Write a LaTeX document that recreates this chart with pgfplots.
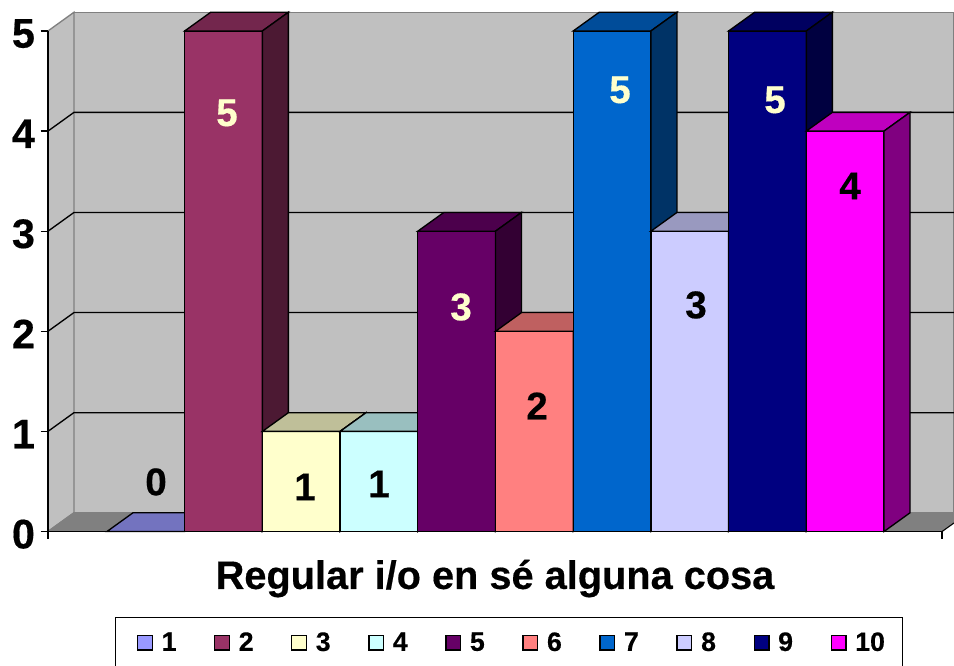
\documentclass[border=0pt]{standalone}
\usepackage{pgfplots}
\pgfplotsset{compat=1.18}
\usepackage{fontspec}
\setmainfont[BoldFeatures={FakeBold=0.4}]{Liberation Sans}

% face colours
\definecolor{fa}{HTML}{9999FF}\definecolor{ta}{HTML}{7373BF}\definecolor{sa}{HTML}{4C4C80}
\definecolor{fb}{HTML}{993366}\definecolor{tb}{HTML}{73264D}\definecolor{sb}{HTML}{4C1933}
\definecolor{fc}{HTML}{FFFFCC}\definecolor{tc}{HTML}{BFBF99}\definecolor{sc}{HTML}{808066}
\definecolor{fd}{HTML}{CCFFFF}\definecolor{td}{HTML}{99BFBF}\definecolor{sd}{HTML}{668080}
\definecolor{fe}{HTML}{660066}\definecolor{te}{HTML}{4C004C}\definecolor{se}{HTML}{330033}
\definecolor{ff}{HTML}{FF8080}\definecolor{tf}{HTML}{BF6060}\definecolor{sf}{HTML}{804040}
\definecolor{fg}{HTML}{0066CC}\definecolor{tg}{HTML}{004C99}\definecolor{sg}{HTML}{003366}
\definecolor{fh}{HTML}{CCCCFF}\definecolor{th}{HTML}{9999BF}\definecolor{sh}{HTML}{666680}
\definecolor{fi}{HTML}{000080}\definecolor{ti}{HTML}{000060}\definecolor{si}{HTML}{000040}
\definecolor{fj}{HTML}{FF00FF}\definecolor{tj}{HTML}{BF00BF}\definecolor{sj}{HTML}{800080}
\definecolor{wallc}{HTML}{C0C0C0}
\definecolor{floorc}{HTML}{808080}
\definecolor{cream}{HTML}{FFFFCC}

\pgfplotsset{sq/.style={legend image code/.code={\draw[##1] (0pt,-5.5pt) rectangle (11pt,5.5pt);}}}

% depth of the 3D offset in data units: dx 0.3346, dy 0.187
\newcommand{\cbar}[6][37.3pt]{%
  \addplot[ybar,bar width=1,bar shift=0pt,sq,fill=#4,draw=black,line width=1pt]
    coordinates {(#2,#3)};
  \addlegendentry{\makebox[#1][l]{#2}}
  \addplot[forget plot,fill=#5,draw=black,line width=1pt] coordinates
    {(#2-0.5,#3) (#2+0.5,#3) (#2+0.8346,#3+0.187) (#2-0.1654,#3+0.187)} --cycle;
  \addplot[forget plot,fill=#6,draw=black,line width=1pt] coordinates
    {(#2+0.5,0) (#2+0.5,#3) (#2+0.8346,#3+0.187) (#2+0.8346,0.187)} --cycle;
}

\begin{document}
\begin{tikzpicture}
\begin{axis}[
    scale only axis,
    width=670.5pt, height=375.4pt,
    xmin=-0.2593, xmax=11.246, ymin=0, ymax=5,
    clip=false,
    axis on top,
    axis x line=bottom, axis y line=left,
    axis line style={-,line width=1pt,black},
    xtick={-0.2593,11.246}, xticklabels={},
    ytick={0,1,2,3,4,5},
    tick align=outside,
    major tick length=5.6pt,
    tick style={black,line width=1pt},
    /pgf/number format/assume math mode=true,
    yticklabel style={font=\fontsize{31}{31}\selectfont\bfseries,inner sep=0pt,xshift=-4pt,yshift=-2pt},
    xlabel={Regular i/o en sé alguna cosa},
    xlabel style={font=\fontsize{29.8}{30}\selectfont\bfseries,at={(axis description cs:0.5,0)},anchor=center,yshift=-35.3pt},
    legend columns=10,
    legend style={at={(axis cs:0.603,-0.854)},anchor=north west,draw=black,line width=1pt,
      font=\fontsize{20}{20}\selectfont\bfseries,
      inner xsep=16pt,inner ysep=9pt,
      /tikz/every odd column/.append style={column sep=4.5pt},
      /tikz/every even column/.append style={column sep=0pt}},
]
% walls and floor
\addplot[forget plot,fill=wallc,draw=floorc,line width=1pt] coordinates
  {(0.0753,0.187) (11.401,0.187) (11.401,5.187) (0.0753,5.187)};
\addplot[forget plot,fill=wallc,draw=floorc,line width=1pt] coordinates
  {(-0.2593,0) (0.0753,0.187) (0.0753,5.187) (-0.2593,5)};
\addplot[forget plot,fill=floorc,draw=floorc,line width=1pt] coordinates
  {(-0.2593,0) (0.0753,0.187) (11.401,0.187) (11.401,0.086) (11.246,0)};
\addplot[forget plot,black,line width=0.7pt] coordinates {(11.246,0) (11.401,0.086)};
% grid lines
\addplot[forget plot,black,line width=1pt] coordinates {(-0.2593,1) (0.0753,1.187) (11.401,1.187)};
\addplot[forget plot,black,line width=1pt] coordinates {(-0.2593,2) (0.0753,2.187) (11.401,2.187)};
\addplot[forget plot,black,line width=1pt] coordinates {(-0.2593,3) (0.0753,3.187) (11.401,3.187)};
\addplot[forget plot,black,line width=1pt] coordinates {(-0.2593,4) (0.0753,4.187) (11.401,4.187)};
% bars
\cbar{1}{0}{fa}{ta}{sa}
\cbar{2}{5}{fb}{tb}{sb}
\cbar{3}{1}{fc}{tc}{sc}
\cbar{4}{1}{fd}{td}{sd}
\cbar{5}{3}{fe}{te}{se}
\cbar{6}{2}{ff}{tf}{sf}
\cbar{7}{5}{fg}{tg}{sg}
\cbar{8}{3}{fh}{th}{sh}
\cbar{9}{5}{fi}{ti}{si}
\cbar[17.35pt]{10}{4}{fj}{tj}{sj}
% value labels
\addplot[forget plot,only marks,mark=none,nodes near coords,point meta=explicit symbolic,
  nodes near coords align={anchor=center},
  every node near coord/.append style={font=\fontsize{29}{29}\selectfont\bfseries,text=black}]
  table[meta=lab] {
x y lab
1.131 0.495 0
3.048 0.445 1
4.001 0.475 1
6.034 1.254 2
8.080 2.263 3
10.062 3.452 4
};
\addplot[forget plot,only marks,mark=none,nodes near coords,point meta=explicit symbolic,
  nodes near coords align={anchor=center},
  every node near coord/.append style={font=\fontsize{29}{29}\selectfont\bfseries,text=cream}]
  table[meta=lab] {
x y lab
2.044 4.181 5
5.056 2.243 3
7.102 4.411 5
9.097 4.311 5
};
\end{axis}
\pgfresetboundingbox
\path[use as bounding box] (-36pt,-100.875pt) rectangle (679.5pt,398.625pt);
\end{tikzpicture}
\end{document}
